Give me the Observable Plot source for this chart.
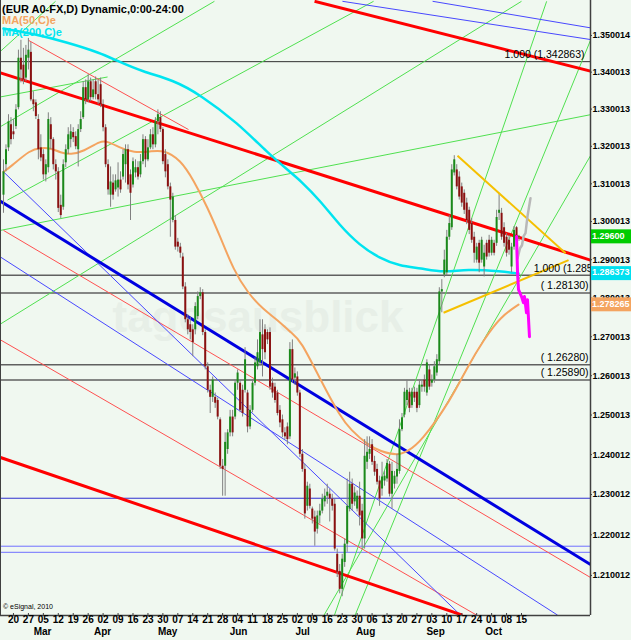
<!DOCTYPE html>
<html><head><meta charset="utf-8">
<script src="https://cdn.jsdelivr.net/npm/d3@7"></script>
<script src="https://cdn.jsdelivr.net/npm/@observablehq/plot@0.6"></script>
<style>
body{margin:0;background:#f0f8f0;}
#chart{position:relative;width:631px;height:640px;overflow:hidden;}
</style></head><body><div id="chart"></div>
<script>
// ---------- DATA ----------
const title = "(EUR A0-FX,D) Dynamic,0:00-24:00";
const weekLabels = ["20","27","05","12","19","26","02","09","16","23","30","07","14","21","28","04","11","18","25","02","09","16","23","30","06","13","20","27","03","10","17","24","01","08","15"];
const monthNames = ["Mar","Apr","May","Jun","Jul","Aug","Sep","Oct"];
const monthAt = [15.7,39.8,65.9,94.4,120.1,145.4,173.5,196.8];
const yTickValues = [1.350014,1.340013,1.330013,1.320013,1.310013,1.300013,1.290013,1.280013,1.270013,1.260013,1.250013,1.240012,1.230012,1.220012,1.210012];
// daily candles in pips: [open, high, low, close]
const ohlc = [
[13070,13164,13022,13132],[13151,13204,13132,13191],[13196,13285,13186,13266],[13258,13277,13204,13218],[13239,13272,13218,13231],
[13253,13312,13245,13298],[13304,13460,13298,13438],[13438,13487,13371,13406],[13419,13465,13366,13379],[13384,13473,13374,13446],
[13438,13492,13406,13460],[13454,13481,13320,13325],[13325,13347,13293,13312],[13317,13325,13272,13280],[13272,13285,13164,13191],
[13196,13231,13159,13169],[13178,13191,13110,13124],[13124,13164,13105,13151],[13143,13290,13129,13272],[13258,13277,13191,13218],
[13218,13223,13137,13151],[13151,13164,13110,13132],[13132,13143,13024,13035],[13043,13070,13008,13016],[13038,13164,13030,13151],
[13156,13204,13143,13191],[13191,13250,13178,13231],[13218,13258,13196,13239],[13237,13250,13210,13223],[13226,13239,13191,13199],
[13191,13258,13145,13245],[13245,13293,13237,13272],[13277,13374,13272,13358],[13358,13379,13312,13325],[13325,13393,13317,13374],
[13374,13384,13320,13331],[13331,13379,13325,13352],[13374,13387,13325,13339],[13339,13379,13312,13325],[13366,13384,13304,13312],
[13312,13325,13239,13250],[13250,13258,13143,13151],[13151,13164,13070,13084],[13070,13145,13038,13105],[13102,13124,13057,13070],
[13084,13124,13078,13108],[13089,13156,13065,13110],[13110,13132,13075,13084],[13118,13191,13110,13178],[13151,13204,13102,13191],
[13191,13204,13084,13097],[13124,13137,13003,13075],[13097,13169,13089,13159],[13129,13164,13116,13143],[13143,13159,13110,13118],
[13124,13178,13116,13159],[13159,13231,13151,13218],[13218,13226,13143,13164],[13164,13218,13159,13196],[13196,13245,13191,13231],
[13231,13250,13191,13204],[13204,13277,13196,13266],[13266,13298,13231,13285],[13277,13293,13237,13245],[13245,13250,13151,13159],
[13178,13191,13116,13132],[13151,13164,13084,13092],[13092,13102,12959,13057],[13003,13075,12997,13065],[13003,13016,12925,12933],
[12946,12956,12920,12933],[12933,12943,12904,12917],[12907,12917,12822,12829],[12829,12840,12736,12744],[12744,12757,12705,12718],
[12731,12752,12692,12711],[12718,12731,12649,12685],[12718,12788,12705,12778],[12752,12816,12744,12804],[12804,12827,12796,12814],
[12814,12822,12703,12711],[12711,12718,12615,12623],[12623,12633,12556,12563],[12563,12576,12504,12545],[12545,12597,12532,12589],
[12545,12556,12517,12530],[12537,12543,12488,12495],[12488,12493,12363,12371],[12371,12388,12296,12363],[12371,12455,12296,12431],
[12413,12463,12401,12455],[12455,12512,12445,12495],[12495,12512,12445,12455],[12495,12589,12488,12581],[12581,12615,12563,12607],
[12581,12589,12506,12512],[12563,12576,12495,12504],[12563,12672,12556,12641],[12556,12563,12455,12470],[12470,12524,12463,12512],
[12512,12589,12506,12581],[12581,12646,12574,12633],[12623,12692,12615,12659],[12633,12744,12625,12711],[12705,12744,12597,12667],
[12718,12731,12641,12659],[12711,12718,12680,12692],[12711,12723,12563,12571],[12581,12594,12543,12556],[12571,12581,12530,12537],
[12556,12563,12498,12504],[12512,12524,12468,12480],[12488,12500,12443,12455],[12455,12468,12438,12445],[12470,12480,12425,12438],
[12445,12685,12438,12667],[12667,12692,12581,12589],[12594,12620,12576,12605],[12597,12610,12548,12556],[12556,12563,12393,12401],
[12401,12413,12356,12363],[12363,12376,12239,12252],[12271,12331,12259,12321],[12314,12326,12264,12271],[12264,12269,12227,12239],
[12244,12259,12172,12207],[12214,12259,12202,12247],[12247,12276,12227,12259],[12259,12301,12252,12289],[12282,12314,12269,12296],
[12296,12326,12276,12306],[12301,12314,12232,12289],[12289,12301,12259,12271],[12276,12289,12160,12165],[12152,12165,12095,12108],
[12110,12127,12055,12066],[12066,12152,12048,12140],[12132,12190,12120,12177],[12177,12339,12157,12271],[12264,12356,12257,12326],
[12326,12339,12259,12276],[12282,12319,12271,12304],[12264,12309,12257,12296],[12296,12331,12222,12247],[12259,12276,12165,12190],
[12190,12438,12165,12396],[12381,12445,12363,12406],[12401,12445,12388,12413],[12425,12438,12373,12381],[12383,12396,12346,12356],
[12363,12376,12324,12331],[12334,12346,12271,12289],[12314,12381,12296,12344],[12334,12358,12321,12346],[12339,12388,12331,12378],
[12376,12383,12294,12301],[12301,12381,12264,12358],[12326,12358,12314,12346],[12344,12401,12326,12363],[12358,12488,12351,12463],
[12463,12504,12458,12493],[12500,12568,12493,12558],[12537,12589,12524,12563],[12558,12568,12506,12517],[12524,12568,12517,12558],
[12558,12571,12532,12543],[12558,12568,12506,12517],[12524,12589,12517,12576],[12571,12589,12558,12576],[12589,12602,12558,12571],
[12556,12641,12548,12633],[12615,12628,12563,12571],[12581,12602,12571,12589],[12589,12636,12581,12623],[12607,12654,12599,12641],
[12636,12827,12628,12816],[12816,12848,12762,12822],[12860,12925,12853,12899],[12866,12977,12858,12959],[12959,13016,12951,12995],
[12984,13151,12977,13137],[13129,13175,13121,13164],[13137,13151,13084,13092],[13118,13132,13057,13065],[13092,13102,13038,13049],
[13075,13084,13019,13030],[13049,13062,12992,13003],[13030,13038,12966,12977],[12995,13008,12943,12951],[12959,12972,12891,12917],
[12899,12943,12891,12933],[12943,12951,12866,12891],[12899,12959,12891,12951],[12881,12938,12855,12917],[12943,12951,12899,12907],
[12951,12964,12907,12917],[12917,12959,12910,12951],[12943,12951,12910,12917],[12943,13030,12935,13011],[13022,13075,13003,13030],
[13022,13035,12951,12959],[12984,12997,12933,12943],[12959,12969,12907,12917],[12951,12964,12912,12925],[12881,12943,12866,12933],
[12933,12987,12925,12977],[12984,12987,12881,12951],[12959,12964,12948,12961]
];
// moving averages: [bar index, pips]
const ma50 = [[0,13132],[2.8,13145],[10.8,13191],[14.9,13196],[18.9,13196],[22.9,13183],[27,13178],[32.1,13186],[39,13215],[41.8,13213],[47,13196],[52.2,13183],[59,13186],[64.3,13191],[71.1,13164],[76.3,13110],[81.9,13038],[87.1,12959],[92.4,12873],[98,12814],[104.4,12770],[110,12744],[115.3,12711],[119.3,12692],[127.3,12589],[135.3,12495],[139.4,12463],[146.2,12425],[151.4,12408],[158.2,12398],[162.2,12408],[167.5,12431],[179.5,12537],[186.3,12623],[192.8,12692],[199.6,12752],[206.8,12783]];
const ma200 = [[0,13519],[12,13505],[25.7,13481],[39,13452],[45,13433],[56,13401],[68,13379],[79,13339],[94,13263],[106,13183],[115,13132],[119,13110],[127,13057],[135,12990],[143,12938],[151,12904],[159,12884],[167.5,12878],[177,12866],[186,12876],[200,12870],[206.8,12864]];
const projGray = [[206.4,12904],[207.4,12930],[208.2,12938],[208.8,12961],[209.6,12970],[210.4,13014],[211.6,13062]];
const projMagenta = [[206,12961],[206.4,12866],[206.8,12822],[208,12804],[208.8,12788],[209.2,12804],[210,12762],[210.4,12796],[211.2,12700]];
// horizontal levels
const fibLevels = [1.342863,1.285924,1.28130,1.26280,1.25890];
const fibText = ["1.000 (1.342863)","1.000 (1.285924)","( 1.28130)","( 1.26280)","( 1.25890)"];
const blueLevels = [1.2291,1.2172,1.2157];
// trend lines: [bar1, price1, bar2, price2]
const redThick = [[124.9,1.3594,235.7,1.3403],[-1.2,1.3398,235.7,1.2899],[-1.2,1.2393,184.3,1.2003]];
const blueThick = [[-1.2,1.3054,235.7,1.2127]];
const redThin = [[10,1.3487,74.3,1.3245],[0,1.2977,235.7,1.2095],[-1.2,1.2692,190,1.2003]];
const blueThin = [[0,1.3132,183.5,1.2003],[-1.2,1.2907,222.5,1.2003],[172.3,1.3594,235.7,1.3521],[136.1,1.3594,235.7,1.3489]];
const greenThin = [
  [-1.2,1.2977,235.7,1.3285],[-1.2,1.3333,41.8,1.3387],[-1.2,1.3457,20.9,1.3594],[-1.2,1.3253,84.7,1.3594],
  [1.6,1.3057,148.6,1.3594],[-1.2,1.2733,208,1.3594],
  [141.2,1.2003,235.7,1.3487],[128.7,1.2003,235.7,1.3175],[132.9,1.2003,218.1,1.3594]
];
const yellow = [[182.3,1.3175,225.7,1.2917],[176.7,1.2762,226.9,1.2899]];
const lastValues = [1.29600,1.286373,1.278265];
const lastText = ["1.29600","1.286373","1.278265"];

// ---------- BUILD ----------
const bars = ohlc.map(([o,h,l,c],i)=>({i,o:o/1e4,h:h/1e4,l:l/1e4,c:c/1e4}));
const pts = a => a.map(([i,p])=>({i,p:p/1e4}));
const segs = a => a.map(([x1,y1,x2,y2])=>({x1,y1,x2,y2}));
const weekTicks = weekLabels.map((d,k)=>4+6*k);
const link = (a,stroke,w)=>Plot.link(segs(a),{x1:"x1",y1:"y1",x2:"x2",y2:"y2",stroke,strokeWidth:w,clip:true});
const FONT = "Liberation Sans, Arial, sans-serif";

const chart = Plot.plot({
  width:631,height:640,marginLeft:0,marginRight:41,marginTop:0,marginBottom:25,
  x:{domain:[-1.2,235.7],axis:null},
  y:{type:"log",domain:[1.20022,1.35962],axis:null},
  style:{background:"#f0f8f0",fontFamily:FONT,fontSize:"10px",color:"#000"},
  marks:[
    Plot.text(["tagesausblick"],{frameAnchor:"top-left",dx:112,dy:300,text:d=>d,fontSize:44,fontWeight:"bold",fill:"#e7efe7",textAnchor:"start"}),
    Plot.ruleY(fibLevels.slice(0,1),{stroke:"#303030",strokeWidth:1}),
    Plot.ruleY(fibLevels.slice(1),{stroke:"#606060",strokeWidth:1.5}),
    Plot.ruleY(blueLevels.slice(0,1),{stroke:"#3030d0",strokeWidth:1}),
    Plot.ruleY(blueLevels.slice(1),{stroke:"#7070ff",strokeWidth:1}),
    link(greenThin,"#50e050",1),
    link(redThin,"#ff5050",1),
    link(blueThin,"#4848ff",1),
    link(redThick,"#ff0000",3),
    link(blueThick,"#0000e0",3),
    Plot.line(pts(ma200),{x:"i",y:"p",stroke:"#00e4f0",strokeWidth:2.5,curve:"basis",clip:true}),
    Plot.line(pts(ma50),{x:"i",y:"p",stroke:"#f4a460",strokeWidth:2,curve:"basis",clip:true}),
    Plot.ruleX(bars,{x:"i",y1:"l",y2:"h",stroke:"#808080",strokeWidth:1}),
    Plot.ruleX(bars,{x:"i",y1:"o",y2:d=>Math.abs(d.c-d.o)<0.0002?d.o+0.0002:d.c,stroke:d=>d.c>=d.o?"#1a8a1a":"#8a1010",strokeWidth:2}),
    link(yellow,"#f5c000",2),
    Plot.line(pts(projGray),{x:"i",y:"p",stroke:"#b8b8b8",strokeWidth:2.5}),
    Plot.line(pts(projMagenta),{x:"i",y:"p",stroke:"#ff00ff",strokeWidth:3}),
    Plot.text(fibLevels.slice(0,1),{x:233.3,y:d=>d,text:()=>fibText[0],textAnchor:"end",dy:-7,fill:"#000",fontSize:10.5}),
    Plot.text(fibLevels.slice(1),{x:d=>d===1.285924?212.9:215.7,y:d=>d,text:d=>fibText[fibLevels.indexOf(d)],textAnchor:"start",dy:-7,fill:"#000",fontSize:10.5,clip:true}),
    Plot.ruleX([235.7],{stroke:"#404040",strokeWidth:1.5}),
    Plot.ruleY([1.20022],{stroke:"#404040",strokeWidth:1.5}),
    Plot.ruleX([-1.2],{stroke:"#404040",strokeWidth:1}),
    Plot.axisY(yTickValues,{anchor:"right",tickSize:1,tickPadding:1,tickFormat:d=>d.toFixed(6),fontWeight:"bold",fontSize:9,fill:"#000",stroke:"#404040"}),
    Plot.axisX(weekTicks,{anchor:"bottom",tickSize:2,tickPadding:0,dy:-2,tickFormat:d=>weekLabels[Math.round((d-4)/6)],fontWeight:"bold",fontSize:10,fill:"#000",stroke:"#404040"}),
    Plot.text(monthNames,{x:(d,i)=>monthAt[i],frameAnchor:"bottom",dy:19.5,text:d=>d,fontWeight:"bold",fontSize:10,fill:"#000"})
  ]
});
document.getElementById("chart").appendChild(chart);

// overlays: title/legend, last-value boxes, copyright
const svg = d3.select(chart);
const ys = chart.scale("y");
const leg = [[title,"#000"],["MA(50,C)e","#f4a460"],["MA(200,C)e","#00e4f0"]];
leg.forEach(([t,c],k)=>svg.append("text").attr("x",2).attr("y",10+k*11.5).attr("text-anchor","start").attr("fill",c).attr("font-size",11).attr("font-weight","bold").attr("dominant-baseline","middle").text(t));
const boxColors = ["#00cc00","#00e0f0","#f4a460"];
lastValues.forEach((v,k)=>{
  const y = ys.apply(v);
  svg.append("rect").attr("x",591).attr("y",y-7).attr("width",40).attr("height",14).attr("fill",boxColors[k]);
  svg.append("text").attr("x",592).attr("y",y).attr("text-anchor","start").attr("dominant-baseline","middle").attr("font-size",9).attr("font-weight","bold").attr("fill","#fff").text(lastText[k]);
});
svg.append("text").attr("x",3).attr("y",609).attr("text-anchor","start").attr("font-size",7).attr("fill","#000").text("© eSignal, 2010");
</script></body></html>
